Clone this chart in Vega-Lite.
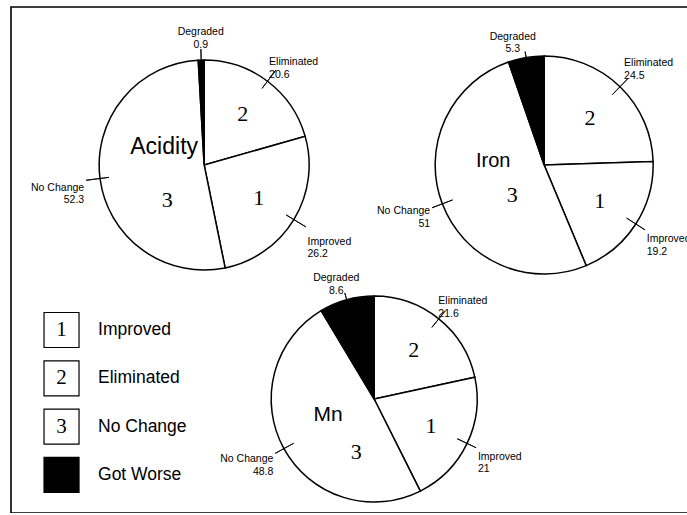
{
  "$schema": "https://vega.github.io/schema/vega-lite/v6.json",
  "autosize": {"type": "none"},
  "padding": {"left": 11, "top": 7, "right": 0, "bottom": 0},
  "width": 680,
  "height": 506,
  "background": "white",
  "datasets": {
    "pies": [
      {"chart": "Acidity", "category": "Eliminated", "code": "2", "rank": 1, "value": 20.6},
      {"chart": "Acidity", "category": "Improved", "code": "1", "rank": 2, "value": 26.2},
      {"chart": "Acidity", "category": "No Change", "code": "3", "rank": 3, "value": 52.3},
      {"chart": "Acidity", "category": "Degraded", "code": "", "rank": 4, "value": 0.9},
      {"chart": "Iron", "category": "Eliminated", "code": "2", "rank": 1, "value": 24.5},
      {"chart": "Iron", "category": "Improved", "code": "1", "rank": 2, "value": 19.2},
      {"chart": "Iron", "category": "No Change", "code": "3", "rank": 3, "value": 51},
      {"chart": "Iron", "category": "Degraded", "code": "", "rank": 4, "value": 5.3},
      {"chart": "Mn", "category": "Eliminated", "code": "2", "rank": 1, "value": 21.6},
      {"chart": "Mn", "category": "Improved", "code": "1", "rank": 2, "value": 21},
      {"chart": "Mn", "category": "No Change", "code": "3", "rank": 3, "value": 48.8},
      {"chart": "Mn", "category": "Degraded", "code": "", "rank": 4, "value": 8.6}
    ],
    "legend": [
      {"item": 1, "code": "1", "label": "Improved"},
      {"item": 2, "code": "2", "label": "Eliminated"},
      {"item": 3, "code": "3", "label": "No Change"},
      {"item": 4, "code": "", "label": "Got Worse"}
    ]
  },
  "config": {
    "view": {"stroke": "black", "strokeWidth": 1.6},
    "text": {"font": "Liberation Sans", "color": "black"}
  },
  "resolve": {"scale": {"x": "independent", "y": "independent"}},
  "layer": [
    {
      "data": {"name": "pies"},
      "transform": [
        {"stack": "value", "groupby": ["chart"], "sort": [{"field": "rank", "order": "ascending"}], "as": ["v0", "v1"]},
        {"calculate": "(datum.v0 + datum.v1) / 2", "as": "vm"},
        {"calculate": "datum.category + '\\n' + datum.value", "as": "lab"},
        {"calculate": "datum.chart == 'Mn' ? 'lower' : 'upper'", "as": "tier"}
      ],
      "encoding": {
        "x": {"field": "chart", "type": "nominal", "axis": null, "scale": {"type": "point", "domain": ["Acidity", "Mn", "Iron"], "padding": 1, "align": 0.5681}},
        "y": {"field": "tier", "type": "nominal", "axis": null, "scale": {"type": "point", "domain": ["upper", "lower"], "padding": 0.5812, "align": 0.5809}}
      },
      "layer": [
        {
          "mark": {"type": "arc", "outerRadius": {"expr": "datum.chart == 'Iron' ? 109 : datum.chart == 'Mn' ? 103 : 105"}, "stroke": "black", "strokeWidth": 1.5},
          "encoding": {
            "theta": {"field": "v0", "type": "quantitative", "stack": null, "scale": {"domain": [0, 100]}},
            "theta2": {"field": "v1"},
            "fill": {"condition": {"test": "datum.category == 'Degraded'", "value": "black"}, "value": "white"}
          }
        },
        {
          "mark": {
            "type": "arc", "fill": null, "stroke": "black", "strokeWidth": 0.9,
            "innerRadius": {"expr": "datum.category == 'Degraded' ? (datum.chart == 'Acidity' ? 104 : datum.chart == 'Iron' ? 107 : 103) : (datum.chart == 'Acidity' ? 96 : datum.chart == 'Iron' ? 98 : 92)"},
            "outerRadius": {"expr": "datum.category == 'Degraded' ? (datum.chart == 'Acidity' ? 116 : datum.chart == 'Iron' ? 115 : 110) : (datum.chart == 'Acidity' ? 119 : datum.chart == 'Iron' ? 120 : 113)"}
          },
          "encoding": {
            "theta": {"field": "vm", "type": "quantitative", "stack": null, "scale": {"domain": [0, 100]}},
            "theta2": {"field": "vm"}
          }
        },
        {
          "mark": {
            "type": "text", "fontSize": 10.5, "lineBreak": "\n",
            "radius": {"expr": "datum.category == 'Degraded' ? (datum.chart == 'Acidity' ? 121 : datum.chart == 'Iron' ? 117 : 112) : (datum.chart == 'Acidity' ? 121 : datum.chart == 'Iron' ? 122 : 115)"},
            "dx": {"expr": "datum.category == 'Eliminated' ? (datum.chart == 'Iron' ? -5 : -8) : datum.category == 'Degraded' ? (datum.chart == 'Acidity' ? 0 : datum.chart == 'Iron' ? -12 : -8) : 0"},
            "dy": {"expr": "datum.category == 'Degraded' ? (datum.chart == 'Acidity' ? -7 : -8) : datum.category == 'Improved' ? (datum.chart == 'Acidity' ? 9 : 3) : datum.category == 'Eliminated' ? (datum.chart == 'Acidity' ? -1 : datum.chart == 'Iron' ? -9 : -3) : (datum.chart == 'Acidity' ? 2 : datum.chart == 'Iron' ? -2 : 0)"},
            "align": {"expr": "datum.category == 'No Change' ? 'right' : datum.category == 'Degraded' ? 'center' : 'left'"},
            "baseline": {"expr": "datum.category == 'Eliminated' || datum.category == 'Degraded' ? 'bottom' : 'top'"}
          },
          "encoding": {
            "theta": {"field": "vm", "type": "quantitative", "stack": null, "scale": {"domain": [0, 100]}},
            "text": {"field": "lab", "type": "nominal"}
          }
        },
        {
          "transform": [{"filter": "datum.code == '1' || datum.code == '2'"}],
          "mark": {
            "type": "text", "font": "Liberation Serif", "fontSize": 22, "baseline": "middle",
            "radius": {"expr": "datum.chart == 'Acidity' ? 64 : datum.chart == 'Iron' ? 66 : 63"}
          },
          "encoding": {
            "theta": {"field": "vm", "type": "quantitative", "stack": null, "scale": {"domain": [0, 100]}},
            "text": {"field": "code", "type": "nominal"}
          }
        },
        {
          "transform": [{"filter": "datum.code == '3'"}],
          "mark": {
            "type": "text", "font": "Liberation Serif", "fontSize": 22, "baseline": "middle",
            "dx": {"expr": "datum.chart == 'Acidity' ? -37 : datum.chart == 'Iron' ? -32 : -18"},
            "dy": {"expr": "datum.chart == 'Acidity' ? 35 : datum.chart == 'Iron' ? 30 : 53"}
          },
          "encoding": {"text": {"field": "code", "type": "nominal"}}
        },
        {
          "transform": [{"filter": "datum.rank == 1"}],
          "mark": {
            "type": "text", "baseline": "middle",
            "fontSize": {"expr": "datum.chart == 'Acidity' ? 23 : datum.chart == 'Iron' ? 20 : 21"},
            "dx": {"expr": "datum.chart == 'Acidity' ? -40 : datum.chart == 'Iron' ? -51 : -46"},
            "dy": {"expr": "datum.chart == 'Acidity' ? -18 : datum.chart == 'Iron' ? -4 : 16"}
          },
          "encoding": {"text": {"field": "chart", "type": "nominal"}}
        }
      ]
    },
    {
      "data": {"name": "legend"},
      "encoding": {
        "x": {"datum": "key", "type": "nominal", "axis": null, "scale": {"type": "point", "domain": ["key"], "padding": 0.5, "align": 0.0743}},
        "y": {"field": "item", "type": "quantitative", "axis": null, "scale": {"domain": [-5.683, 4.787], "reverse": true, "nice": false, "zero": false}}
      },
      "layer": [
        {
          "mark": {"type": "point", "shape": "square", "size": 1225, "filled": true, "stroke": "black", "strokeWidth": 1.2, "opacity": 1},
          "encoding": {
            "fill": {"condition": {"test": "datum.label == 'Got Worse'", "value": "black"}, "value": "white"}
          }
        },
        {
          "mark": {"type": "text", "font": "Liberation Serif", "fontSize": 21, "baseline": "middle"},
          "encoding": {"text": {"field": "code", "type": "nominal"}}
        },
        {
          "mark": {"type": "text", "align": "left", "dx": 36.5, "fontSize": 17.5, "baseline": "middle"},
          "encoding": {"text": {"field": "label", "type": "nominal"}}
        }
      ]
    }
  ]
}
